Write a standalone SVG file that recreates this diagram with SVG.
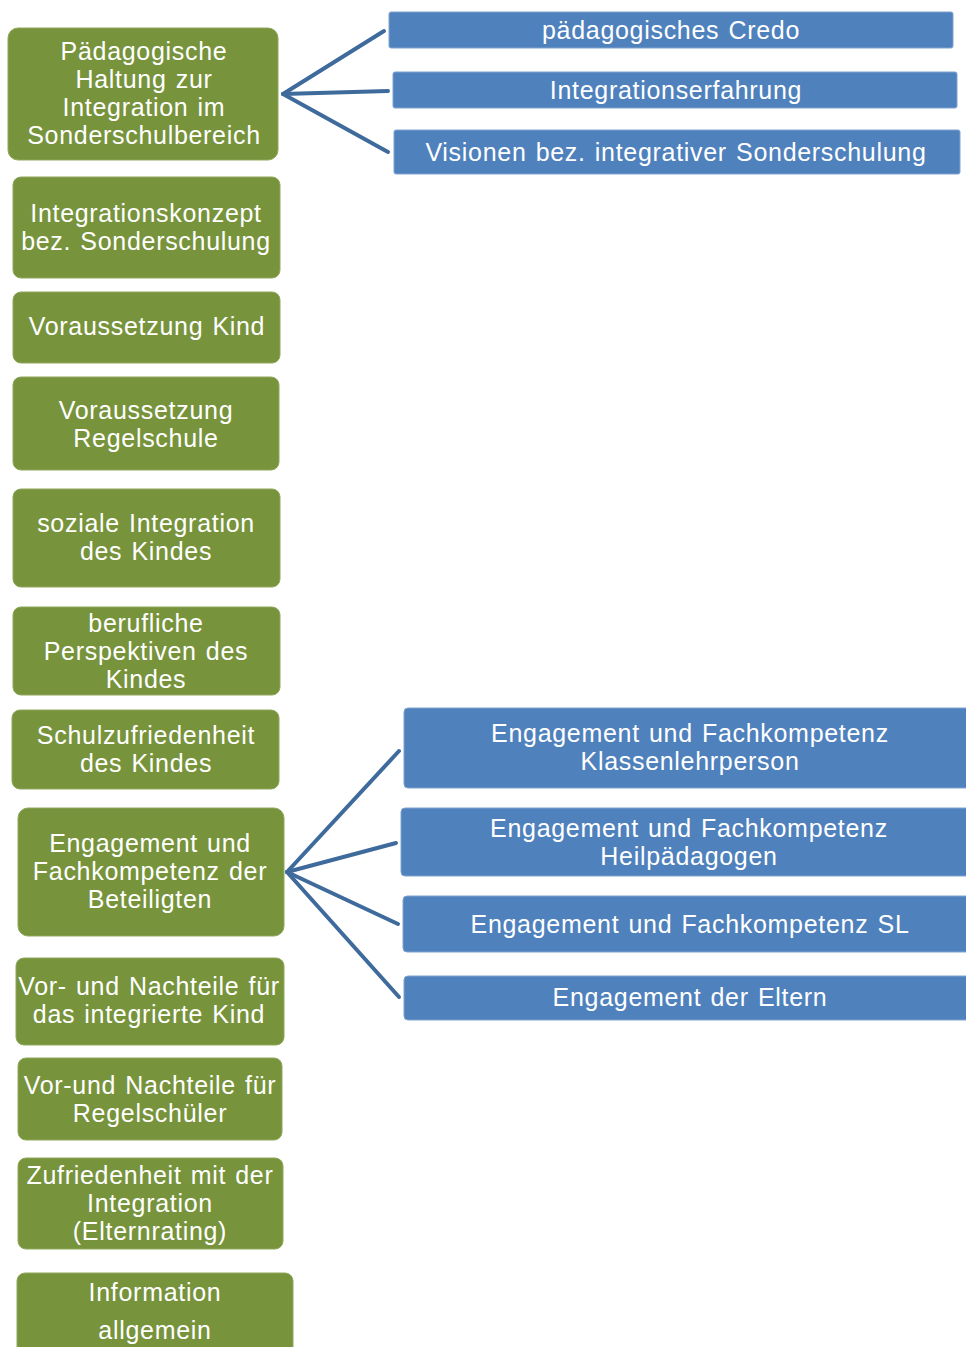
<svg xmlns="http://www.w3.org/2000/svg" width="966" height="1347" viewBox="0 0 966 1347">
  <style>
    .g { fill: #77933C; stroke: #8fa85a; stroke-width: 1; }
    .b { fill: #4F81BD; stroke: #7fa3cf; stroke-width: 1; }
    text { font-family: "Liberation Sans", Arial, sans-serif; font-size: 25px; letter-spacing: 0.7px; word-spacing: 1.5px; fill: #ffffff; text-anchor: middle; }
    .conn line { stroke: #3E6A9C; stroke-width: 4; stroke-linecap: round; }
  </style>
  <rect width="966" height="1347" fill="#ffffff"/>

  <!-- connectors -->
  <g id="connectors" class="conn">
    <line x1="283" y1="94" x2="384" y2="31"/>
    <line x1="283" y1="94" x2="388" y2="91"/>
    <line x1="283" y1="94" x2="388" y2="152"/>
    <line x1="287" y1="872" x2="399" y2="751"/>
    <line x1="287" y1="872" x2="396" y2="843"/>
    <line x1="287" y1="872" x2="398" y2="924"/>
    <line x1="287" y1="872" x2="399" y2="997"/>
  </g>

  <!-- left column -->
  <g id="n-haltung">
    <rect class="g" x="8" y="28" width="270" height="132" rx="10"/>
    <text x="144" y="60">Pädagogische</text>
    <text x="144" y="88">Haltung zur</text>
    <text x="144" y="116">Integration im</text>
    <text x="144" y="144">Sonderschulbereich</text>
  </g>
  <g id="n-konzept">
    <rect class="g" x="13" y="177" width="267" height="101" rx="8"/>
    <text x="146" y="222">Integrationskonzept</text>
    <text x="146" y="250">bez. Sonderschulung</text>
  </g>
  <g id="n-kind">
    <rect class="g" x="13" y="292" width="267" height="71" rx="8"/>
    <text x="147" y="335">Voraussetzung Kind</text>
  </g>
  <g id="n-regelschule">
    <rect class="g" x="13" y="377" width="266" height="93" rx="8"/>
    <text x="146" y="419">Voraussetzung</text>
    <text x="146" y="447">Regelschule</text>
  </g>
  <g id="n-sozial">
    <rect class="g" x="13" y="489" width="267" height="98" rx="8"/>
    <text x="146" y="532">soziale Integration</text>
    <text x="146" y="560">des Kindes</text>
  </g>
  <g id="n-beruf">
    <rect class="g" x="13" y="607" width="267" height="88" rx="8"/>
    <text x="146" y="632">berufliche</text>
    <text x="146" y="660">Perspektiven des</text>
    <text x="146" y="688">Kindes</text>
  </g>
  <g id="n-zufrieden-kind">
    <rect class="g" x="12" y="710" width="267" height="79" rx="8"/>
    <text x="146" y="744">Schulzufriedenheit</text>
    <text x="146" y="772">des Kindes</text>
  </g>
  <g id="n-engagement">
    <rect class="g" x="18" y="808" width="266" height="128" rx="10"/>
    <text x="150" y="852">Engagement und</text>
    <text x="150" y="880">Fachkompetenz der</text>
    <text x="150" y="908">Beteiligten</text>
  </g>
  <g id="n-vorteile-kind">
    <rect class="g" x="16" y="958" width="268" height="87" rx="8"/>
    <text x="149" y="995">Vor- und Nachteile für</text>
    <text x="149" y="1023">das integrierte Kind</text>
  </g>
  <g id="n-vorteile-regel">
    <rect class="g" x="18" y="1058" width="264" height="82" rx="8"/>
    <text x="150" y="1094">Vor-und Nachteile für</text>
    <text x="150" y="1122">Regelschüler</text>
  </g>
  <g id="n-eltern-rating">
    <rect class="g" x="18" y="1158" width="265" height="91" rx="8"/>
    <text x="150" y="1184">Zufriedenheit mit der</text>
    <text x="150" y="1212">Integration</text>
    <text x="150" y="1240">(Elternrating)</text>
  </g>
  <g id="n-information">
    <rect class="g" x="17" y="1273" width="276" height="90" rx="8"/>
    <text x="155" y="1301">Information</text>
    <text x="155" y="1339">allgemein</text>
  </g>

  <!-- right column, upper group -->
  <g id="n-credo">
    <rect class="b" x="389" y="12" width="564" height="36" rx="2"/>
    <text x="671" y="39">pädagogisches Credo</text>
  </g>
  <g id="n-erfahrung">
    <rect class="b" x="393" y="72" width="564" height="36" rx="2"/>
    <text x="676" y="99">Integrationserfahrung</text>
  </g>
  <g id="n-visionen">
    <rect class="b" x="394" y="130" width="566" height="44" rx="2"/>
    <text x="676" y="161">Visionen bez. integrativer Sonderschulung</text>
  </g>

  <!-- right column, lower group -->
  <g id="n-klassenlehr">
    <rect class="b" x="404" y="708" width="570" height="80" rx="4"/>
    <text x="690" y="742">Engagement und Fachkompetenz</text>
    <text x="690" y="770">Klassenlehrperson</text>
  </g>
  <g id="n-heilpaed">
    <rect class="b" x="401" y="808" width="573" height="68" rx="4"/>
    <text x="689" y="837">Engagement und Fachkompetenz</text>
    <text x="689" y="865">Heilpädagogen</text>
  </g>
  <g id="n-sl">
    <rect class="b" x="403" y="896" width="571" height="56" rx="4"/>
    <text x="690" y="933">Engagement und Fachkompetenz SL</text>
  </g>
  <g id="n-eltern">
    <rect class="b" x="404" y="976" width="570" height="44" rx="4"/>
    <text x="690" y="1006">Engagement der Eltern</text>
  </g>
</svg>
